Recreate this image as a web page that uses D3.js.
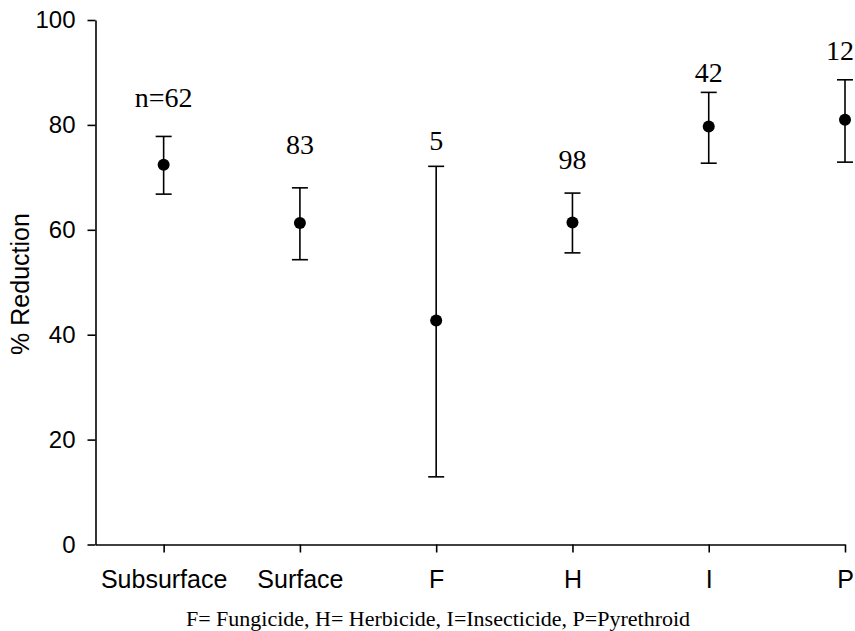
<!DOCTYPE html>
<html>
<head>
<meta charset="utf-8">
<script src="https://cdn.jsdelivr.net/npm/d3@7/dist/d3.min.js"></script>
<style>
  html, body { margin: 0; padding: 0; background: #fff; }
  svg { display: block; }
  .axis path, .axis line { stroke: #000; stroke-width: 1.6px; }
  .axis text { font-family: "Liberation Sans", Arial, sans-serif; font-size: 24px; fill: #000; }
  .xaxis text { font-size: 25px; }
</style>
</head>
<body>
<svg id="chart" width="855" height="631"></svg>
<script>
// Treatment groups along the x axis
const categories = ["Subsurface", "Surface", "F", "H", "I", "P"];
// Mean % reduction and the upper / lower ends of each error bar
const means = [72.4, 61.3, 42.7, 61.4, 79.7, 81.0];
const upper = [77.8, 68.0, 72.1, 67.0, 86.2, 88.6];
const lower = [66.8, 54.3, 12.9, 55.6, 72.7, 72.9];
// Number of observations per group and the height (in % units) where each count is printed
const counts = ["n=62", "83", "5", "98", "42", "12"];
const countAt = [83.5, 74.5, 75.3, 71.5, 88.1, 92.3];
// Y axis ticks
const yTicks = [0, 20, 40, 60, 80, 100];
const footnote = "F= Fungicide, H= Herbicide, I=Insecticide, P=Pyrethroid";

const W = 855, H = 631;
const svg = d3.select("#chart");

const x = d3.scaleLinear().domain([-0.5, categories.length - 1]).range([95.5, 845]);
const y = d3.scaleLinear().domain([0, 100]).range([544.5, 20]);

// Axes
svg.append("g")
  .attr("class", "axis")
  .attr("transform", `translate(${x.range()[0]},0)`)
  .call(d3.axisLeft(y).tickValues(yTicks).tickSize(8).tickSizeOuter(0).tickPadding(12));

svg.append("g")
  .attr("class", "axis xaxis")
  .attr("transform", `translate(0,${y(0)})`)
  .call(d3.axisBottom(x)
    .tickValues(d3.range(categories.length))
    .tickFormat(i => categories[i])
    .tickSize(8).tickSizeOuter(0).tickPadding(18));

// Y axis title
svg.append("text")
  .attr("transform", `translate(29,284) rotate(-90)`)
  .attr("text-anchor", "middle")
  .style("font-family", '"Liberation Sans", Arial, sans-serif')
  .style("font-size", "25px")
  .text("% Reduction");

// Error bars
const bars = svg.append("g").attr("stroke", "#000").attr("stroke-width", 1.6);
const cap = 8;
categories.forEach((c, i) => {
  const cx = x(i);
  bars.append("line").attr("x1", cx).attr("x2", cx).attr("y1", y(upper[i])).attr("y2", y(lower[i]));
  bars.append("line").attr("x1", cx - cap).attr("x2", cx + cap).attr("y1", y(upper[i])).attr("y2", y(upper[i]));
  bars.append("line").attr("x1", cx - cap).attr("x2", cx + cap).attr("y1", y(lower[i])).attr("y2", y(lower[i]));
});

// Mean points
svg.append("g").selectAll("circle")
  .data(means)
  .join("circle")
  .attr("cx", (d, i) => x(i))
  .attr("cy", d => y(d))
  .attr("r", 6)
  .attr("fill", "#000");

// Sample-size labels
svg.append("g").selectAll("text")
  .data(counts)
  .join("text")
  .attr("x", (d, i) => x(i))
  .attr("y", (d, i) => y(countAt[i]))
  .attr("text-anchor", "middle")
  .style("font-family", '"Liberation Serif", "Times New Roman", serif')
  .style("font-size", "28px")
  .text(d => d)
  .each(function () {
    // keep labels inside the drawing area
    const w = this.getComputedTextLength();
    const cx = +this.getAttribute("x");
    if (cx + w / 2 > W - 1) this.setAttribute("x", W - 1 - w / 2);
  });

// Abbreviation key
svg.append("text")
  .attr("x", 438)
  .attr("y", 626)
  .attr("text-anchor", "middle")
  .style("font-family", '"Liberation Serif", "Times New Roman", serif')
  .style("font-size", "22px")
  .text(footnote);
</script>
</body>
</html>
